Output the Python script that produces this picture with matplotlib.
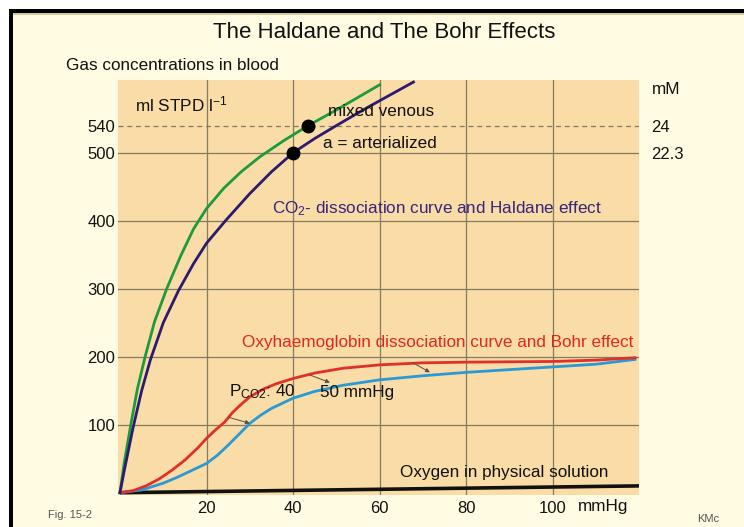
import matplotlib
matplotlib.use("Agg")
import matplotlib.pyplot as plt
from matplotlib.patches import Rectangle

plt.rcParams["font.family"] = ["Liberation Sans", "DejaVu Sans"]
plt.rcParams["mathtext.fontset"] = "custom"
plt.rcParams["mathtext.rm"] = "Liberation Sans"
plt.rcParams["mathtext.it"] = "Liberation Sans"

# CO2 dissociation curves (PCO2 mmHg -> ml STPD/l)
co2_venous_p = [0, 1, 2.5, 4, 5.8, 8, 10.8, 14, 17, 20, 24, 28, 32.3, 38, 43.5, 50, 60]
co2_venous_v = [0, 45, 100, 152, 200, 252, 300, 348, 388, 418, 448, 472, 494, 518.5, 540, 563, 600]
co2_arterial_p = [0, 1, 3, 5, 7, 10, 13.5, 17, 20, 24.5, 30, 35, 40, 45, 50, 57, 67.8]
co2_arterial_v = [0, 33, 95, 150, 195, 250, 297, 337, 367, 401, 440, 472, 500, 521, 540, 566, 604]

# Oxyhaemoglobin dissociation curves (PO2 mmHg -> ml STPD/l)
hb40_p = [0, 3, 6, 9, 12, 15, 18, 20, 22, 24.2, 26, 28, 30, 33, 36, 40, 45, 51.5, 60, 70, 80, 90, 100, 110, 119]
hb40_v = [0, 3, 10, 20, 33, 48, 66, 80, 92, 104, 118, 130, 141, 152, 160, 168, 176, 183, 188, 191, 192, 192.5, 193, 195, 198.5]
hb50_p = [0, 5, 10, 13, 16, 20, 22.5, 25, 27.5, 30, 32.5, 35, 40, 45, 51.5, 60, 70, 80, 90, 100, 110, 119]
hb50_v = [0, 4, 14, 22, 31, 43, 55, 70, 86, 102, 114, 124, 139, 149, 158, 166, 172, 177, 181, 185, 189, 196]

# Physically dissolved oxygen
o2_sol_p = [0, 120]
o2_sol_v = [0, 10]

# Marked blood states
venous_pt = (43.5, 540)
arterial_pt = (40, 500)

x_ticks = [20, 40, 60, 80, 100]
y_ticks = [100, 200, 300, 400, 500, 540]
y_tick_labels = ["100", "200", "300", "400", "500", "540"]
mm_ticks = [540, 500]
mm_labels = ["24", "22.3"]

# Bohr shift arrows: (start, end)
bohr_arrows = [((25, 111), (30, 102)), ((43.9, 173), (48.5, 162)), ((67.7, 191), (71.6, 177))]

W, H = 744, 527
fig = plt.figure(figsize=(W / 100, H / 100), dpi=100, facecolor="white")

def px_rect(x0, y0, x1, y1, color, z=-10):
    fig.patches.append(Rectangle((x0 / W, 1 - y1 / H), (x1 - x0) / W, (y1 - y0) / H,
                                 transform=fig.transFigure, facecolor=color,
                                 edgecolor="none", zorder=z))

px_rect(13, 13, W, H, "#fffce3", -10)
px_rect(13, 13, W, 15, "#cfc9a8", -9)
px_rect(9, 9, W, 13, "black", -9)
px_rect(9, 9, 13, H, "black", -9)

ax = fig.add_axes([118 / W, 1 - 495 / H, 521 / W, 415 / H])
ax.set_facecolor("#f9dca6")
ax.set_xlim(-0.46, 119.9)
ax.set_ylim(-3.4, 607)
for s in ax.spines.values():
    s.set_visible(False)

grid_c = "#857a62"
for x in x_ticks:
    ax.axvline(x, color=grid_c, lw=0.9, zorder=1)
for y in [100, 200, 300, 400, 500]:
    ax.axhline(y, color=grid_c, lw=0.9, zorder=1)
ax.axhline(540, color=grid_c, lw=0.9, ls=(0, (4, 3)), zorder=1)

ax.plot(o2_sol_p, o2_sol_v, color="#111111", lw=2.6, solid_capstyle="butt", zorder=3)
ax.plot(hb50_p, hb50_v, color="#2a9ad6", lw=2.0, zorder=4)
ax.plot(hb40_p, hb40_v, color="#e0302a", lw=2.0, zorder=4)
ax.plot(co2_venous_p, co2_venous_v, color="#1d9a3c", lw=2.0, zorder=4)
ax.plot(co2_arterial_p, co2_arterial_v, color="#2b1a72", lw=2.0, zorder=4)

for (x0, y0), (x1, y1) in bohr_arrows:
    ax.annotate("", xy=(x1, y1), xytext=(x0, y0),
                arrowprops=dict(arrowstyle="-|>", color="#555048", lw=0.7,
                                mutation_scale=6, shrinkA=0, shrinkB=0), zorder=5)

ax.plot(*venous_pt, "o", color="black", ms=9, zorder=6)
ax.plot(*arterial_pt, "o", color="black", ms=9, zorder=6)

ax.set_xticks(x_ticks)
ax.set_xticklabels([str(v) for v in x_ticks])
ax.set_yticks(y_ticks)
ax.set_yticklabels(y_tick_labels)
ax.tick_params(length=0, labelsize=12, colors="#111111")
ax.tick_params(axis="x", pad=4)
ax.tick_params(axis="y", pad=2)

ax2 = ax.twinx()
ax2.set_ylim(ax.get_ylim())
ax2.set_yticks(mm_ticks)
ax2.set_yticklabels(mm_labels)
ax2.tick_params(length=0, labelsize=12, pad=9, colors="#111111")
for s in ax2.spines.values():
    s.set_visible(False)

def ftext(x, y, s, **kw):
    fig.text(x / W, 1 - y / H, s, **kw)

fs = 12.3
ftext(384, 33, "The Haldane and The Bohr Effects", fontsize=16, ha="center", va="center", color="#111111")
ftext(66, 66, "Gas concentrations in blood", fontsize=fs, ha="left", va="center", color="#111111")
ftext(135, 104, r"ml STPD l$^{\mathregular{-1}}$", fontsize=fs, ha="left", va="center", color="#111111")
ftext(328, 112, "mixed venous", fontsize=fs, ha="left", va="center", color="#111111")
ftext(323, 144, "a = arterialized", fontsize=fs, ha="left", va="center", color="#111111")
ftext(272, 209, r"CO$_{\mathregular{2}}$- dissociation curve and Haldane effect", fontsize=fs,
      ha="left", va="center", color="#35257e")
ftext(242, 342, "Oxyhaemoglobin dissociation curve and Bohr effect", fontsize=fs,
      ha="left", va="center", color="#e0281e")
ftext(229, 392, r"P$_{\mathregular{CO2}}$: 40", fontsize=fs, ha="left", va="center", color="#111111")
ftext(320, 392, "50 mmHg", fontsize=fs, ha="left", va="center", color="#111111")
ftext(400, 473, "Oxygen in physical solution", fontsize=fs, ha="left", va="center", color="#111111")
ftext(578, 506, "mmHg", fontsize=fs, ha="left", va="center", color="#111111")
ftext(652, 89, "mM", fontsize=fs, ha="left", va="center", color="#111111")
ftext(48, 515, "Fig. 15-2", fontsize=8, ha="left", va="center", color="#555555")
ftext(697, 519, "KMc", fontsize=8, ha="left", va="center", color="#555555")

fig.savefig("out.png", dpi=100, facecolor=fig.get_facecolor())
